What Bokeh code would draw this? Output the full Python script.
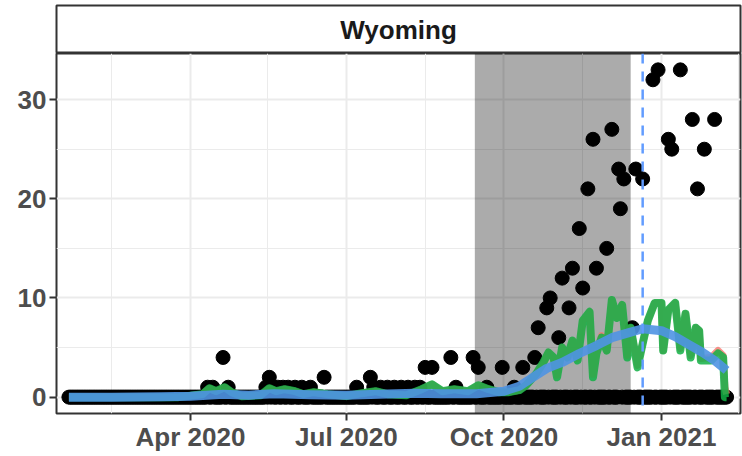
import pandas as pd
from bokeh.plotting import figure
from bokeh.layouts import column
from bokeh.models import Range1d, FixedTicker, DatetimeTickFormatter, BoxAnnotation, Span, ColumnDataSource
from bokeh.core.properties import value
from bokeh.embed import file_html
from bokeh.resources import INLINE

# ---------------- data ----------------
facet_label = "Wyoming"
series_start = "2020-01-21"
series_end = "2021-02-08"

# days with non-zero counts (all other days in the series are 0)
death_dates = [
    "2020-04-11", "2020-04-14", "2020-04-20", "2020-04-23",
    "2020-05-15", "2020-05-17", "2020-05-19", "2020-05-22", "2020-05-25", "2020-05-28",
    "2020-06-01", "2020-06-05", "2020-06-10", "2020-06-18",
    "2020-07-07", "2020-07-15", "2020-07-17", "2020-07-21", "2020-07-25", "2020-07-29",
    "2020-08-02", "2020-08-06", "2020-08-10", "2020-08-13", "2020-08-16", "2020-08-20",
    "2020-08-31", "2020-09-03", "2020-09-13", "2020-09-16", "2020-09-21", "2020-09-30",
    "2020-10-07", "2020-10-12", "2020-10-19", "2020-10-21", "2020-10-26", "2020-10-28",
    "2020-11-02", "2020-11-04", "2020-11-08", "2020-11-10", "2020-11-14", "2020-11-16",
    "2020-11-19", "2020-11-22", "2020-11-24", "2020-11-30",
    "2020-12-03", "2020-12-07", "2020-12-08", "2020-12-10", "2020-12-15", "2020-12-17",
    "2020-12-21", "2020-12-27", "2020-12-30",
    "2021-01-05", "2021-01-07", "2021-01-12", "2021-01-19", "2021-01-22", "2021-01-26",
    "2021-02-01",
]
death_values = [
    1, 1, 4, 1,
    1, 2, 1, 1, 1, 1,
    1, 1, 1, 2,
    1, 2, 1, 1, 1, 1,
    1, 1, 1, 1, 3, 3,
    4, 1, 4, 3, 1, 3,
    1, 3, 4, 7, 9, 10,
    6, 12, 9, 13, 17, 11,
    21, 26, 13, 15,
    27, 23, 19, 22, 7, 23,
    22, 32, 33,
    26, 25, 33, 28, 21, 25,
    28,
]

green_dates = [
    "2020-01-21", "2020-03-25", "2020-04-08", "2020-04-12", "2020-04-16", "2020-04-21",
    "2020-04-25", "2020-05-01", "2020-05-12", "2020-05-17", "2020-05-21", "2020-05-26",
    "2020-06-01", "2020-06-06", "2020-06-12", "2020-06-20", "2020-07-01", "2020-07-10",
    "2020-07-18", "2020-07-25", "2020-08-05", "2020-08-14", "2020-08-20", "2020-08-26",
    "2020-09-02", "2020-09-10", "2020-09-16", "2020-09-22", "2020-09-28", "2020-10-04",
    "2020-10-10", "2020-10-14", "2020-10-20", "2020-10-24", "2020-10-27", "2020-10-30",
    "2020-11-01", "2020-11-04", "2020-11-07", "2020-11-10", "2020-11-13", "2020-11-16",
    "2020-11-20", "2020-11-22", "2020-11-24", "2020-11-27", "2020-11-30", "2020-12-03",
    "2020-12-06", "2020-12-09", "2020-12-12", "2020-12-14", "2020-12-18", "2020-12-21",
    "2020-12-24", "2020-12-28", "2021-01-01", "2021-01-02", "2021-01-05", "2021-01-09",
    "2021-01-12", "2021-01-15", "2021-01-18", "2021-01-21", "2021-01-23", "2021-01-24",
    "2021-01-30", "2021-02-03", "2021-02-06", "2021-02-07", "2021-02-08",
]
green_values = [
    0.0, 0.0, 0.3, 0.9, 0.6, 1.0,
    0.5, 0.1, 0.2, 0.9, 0.6, 0.8,
    0.6, 0.3, 0.5, 0.3, 0.1, 0.4,
    0.6, 0.3, 0.2, 0.8, 1.3, 0.6,
    0.8, 0.6, 1.2, 0.8, 0.5, 0.5,
    0.7, 1.2, 2.4, 3.5, 4.5, 4.0,
    2.0, 5.0, 4.0, 5.7, 3.7, 7.7,
    8.6, 2.0, 4.4, 6.0, 4.7, 9.8,
    8.0, 9.3, 4.0, 7.0, 3.0, 5.4,
    7.7, 9.5, 9.5, 4.7, 8.8, 9.5,
    4.7, 8.4, 4.0, 7.0, 6.7, 3.7,
    3.7, 4.4, 4.0, 0.0, 0.0,
]
red_values = [
    0.0, 0.0, 0.3, 0.9, 0.6, 1.0,
    0.5, 0.1, 0.2, 0.9, 0.6, 0.8,
    0.6, 0.3, 0.5, 0.3, 0.1, 0.4,
    0.6, 0.3, 0.2, 0.8, 1.3, 0.6,
    0.8, 0.6, 1.2, 0.8, 0.5, 0.5,
    0.7, 1.2, 2.4, 3.5, 4.5, 4.0,
    2.2, 5.0, 4.0, 5.7, 3.9, 7.7,
    8.6, 2.3, 4.4, 6.2, 4.7, 9.8,
    8.0, 9.3, 4.2, 7.0, 3.2, 5.4,
    7.7, 9.5, 9.5, 4.7, 8.8, 9.5,
    4.9, 8.4, 4.2, 7.0, 6.7, 3.9,
    4.0, 4.7, 4.2, 1.0, 0.3,
]

smooth_dates = [
    "2020-01-21", "2020-02-15", "2020-03-15", "2020-04-01", "2020-04-20", "2020-05-05",
    "2020-05-20", "2020-06-10", "2020-07-01", "2020-07-20", "2020-08-10", "2020-08-25",
    "2020-09-15", "2020-10-01", "2020-10-10", "2020-10-18", "2020-10-26", "2020-11-04",
    "2020-11-14", "2020-11-24", "2020-12-03", "2020-12-13", "2020-12-21", "2021-01-01",
    "2021-01-09", "2021-01-17", "2021-01-25", "2021-02-01", "2021-02-08",
]
smooth_values = [
    0.0, 0.0, 0.05, 0.1, 0.3, 0.2,
    0.35, 0.25, 0.2, 0.3, 0.4, 0.35,
    0.35, 0.6, 1.1, 2.0, 2.9, 3.5,
    4.4, 5.2, 6.0, 6.5, 6.9, 6.7,
    6.1, 5.3, 4.5, 3.7, 2.7,
]

shade_start = "2020-09-14"
shade_end = "2020-12-14"
event_date = "2020-12-21"

x_tick_dates = ["2020-04-01", "2020-07-01", "2020-10-01", "2021-01-01"]
x_minor_dates = ["2020-02-15", "2020-05-16", "2020-08-16", "2020-11-16", "2021-02-15"]
x_limits = ["2020-01-13 18:00", "2021-02-16 03:00"]
y_ticks = [0, 10, 20, 30]
y_minor = [5, 15, 25]
y_limits = [-1.65, 34.65]


def ms(d):
    return pd.Timestamp(d).value / 1e6


# daily series
days = pd.date_range(series_start, series_end, freq="D")
deaths = pd.Series(0, index=days, dtype=float)
deaths.loc[pd.to_datetime(death_dates)] = death_values

pts = ColumnDataSource(dict(x=deaths.index, y=deaths.values))
green = ColumnDataSource(dict(x=pd.to_datetime(green_dates), y=green_values))
red = ColumnDataSource(dict(x=pd.to_datetime(green_dates), y=red_values))
smooth = ColumnDataSource(dict(x=pd.to_datetime(smooth_dates), y=smooth_values))

FONT = "Liberation Sans"
BORDER = "#333333"
FS = "26px"

# ---------------- strip ----------------
strip = figure(width=742, height=53, x_range=Range1d(0, 1), y_range=Range1d(0, 1),
               x_axis_location=None, y_axis_location=None,
               output_backend="svg", toolbar_location=None,
               min_border_left=56, min_border_right=2, min_border_top=5, min_border_bottom=0)
strip.grid.visible = False
strip.outline_line_color = BORDER
strip.outline_line_width = 2
strip.background_fill_color = "white"
strip.border_fill_color = "white"
strip.text(x=[0.5], y=[0.5], text=[facet_label], text_font=value(FONT), text_font_style="bold",
           text_font_size=FS, text_align="center", text_baseline="middle", text_color="#1A1A1A")

# ---------------- main panel ----------------
p = figure(width=742, height=403, x_axis_type="datetime",
           x_range=Range1d(ms(x_limits[0]), ms(x_limits[1])),
           y_range=Range1d(y_limits[0], y_limits[1]),
           output_backend="svg", toolbar_location=None,
           min_border_left=56, min_border_right=2, min_border_top=0, min_border_bottom=43)
p.background_fill_color = "white"
p.border_fill_color = "white"
p.outline_line_color = BORDER
p.outline_line_width = 2

p.xaxis.ticker = FixedTicker(ticks=[ms(d) for d in x_tick_dates],
                             minor_ticks=[ms(d) for d in x_minor_dates])
fmt = "%b %Y"
p.xaxis.formatter = DatetimeTickFormatter(microseconds=fmt, milliseconds=fmt, seconds=fmt, minsec=fmt,
                                          minutes=fmt, hourmin=fmt, hours=fmt, days=fmt,
                                          months=fmt, years=fmt)
p.yaxis.ticker = FixedTicker(ticks=y_ticks, minor_ticks=y_minor)

for ax in (p.xaxis[0], p.yaxis[0]):
    ax.axis_line_color = None
    ax.major_tick_line_color = BORDER
    ax.major_tick_line_width = 2
    ax.major_tick_out = 7
    ax.major_tick_in = 0
    ax.minor_tick_line_color = None
    ax.major_label_text_font = FONT
    ax.major_label_text_font_style = "bold"
    ax.major_label_text_font_size = FS
    ax.major_label_text_color = "#4D4D4D"
p.xaxis.major_label_standoff = 1
p.yaxis.major_label_standoff = 3

for g in (p.xgrid[0], p.ygrid[0]):
    g.grid_line_color = "#EBEBEB"
    g.grid_line_width = 2
    g.minor_grid_line_color = "#EBEBEB"
    g.minor_grid_line_width = 1

shade = BoxAnnotation(left=ms(shade_start), right=ms(shade_end), fill_color="black",
                      fill_alpha=0.33, line_color=None, level="underlay")
p.add_layout(shade)

p.scatter("x", "y", source=pts, size=14, color="black")
p.line("x", "y", source=red, line_color="#F8766D", line_width=7, line_alpha=0.8, line_join="round")
p.line("x", "y", source=green, line_color="#12B045", line_width=8, line_alpha=0.85, line_join="round")
p.line("x", "y", source=smooth, line_color="#4F93E3", line_width=9, line_alpha=0.9, line_join="round")

p.add_layout(Span(location=ms(event_date), dimension="height", line_color="#619CFF",
                  line_width=2.5, line_dash="10 8", level="overlay"))

layout = column(strip, p)
open("out.html", "w").write(file_html(layout, INLINE))
